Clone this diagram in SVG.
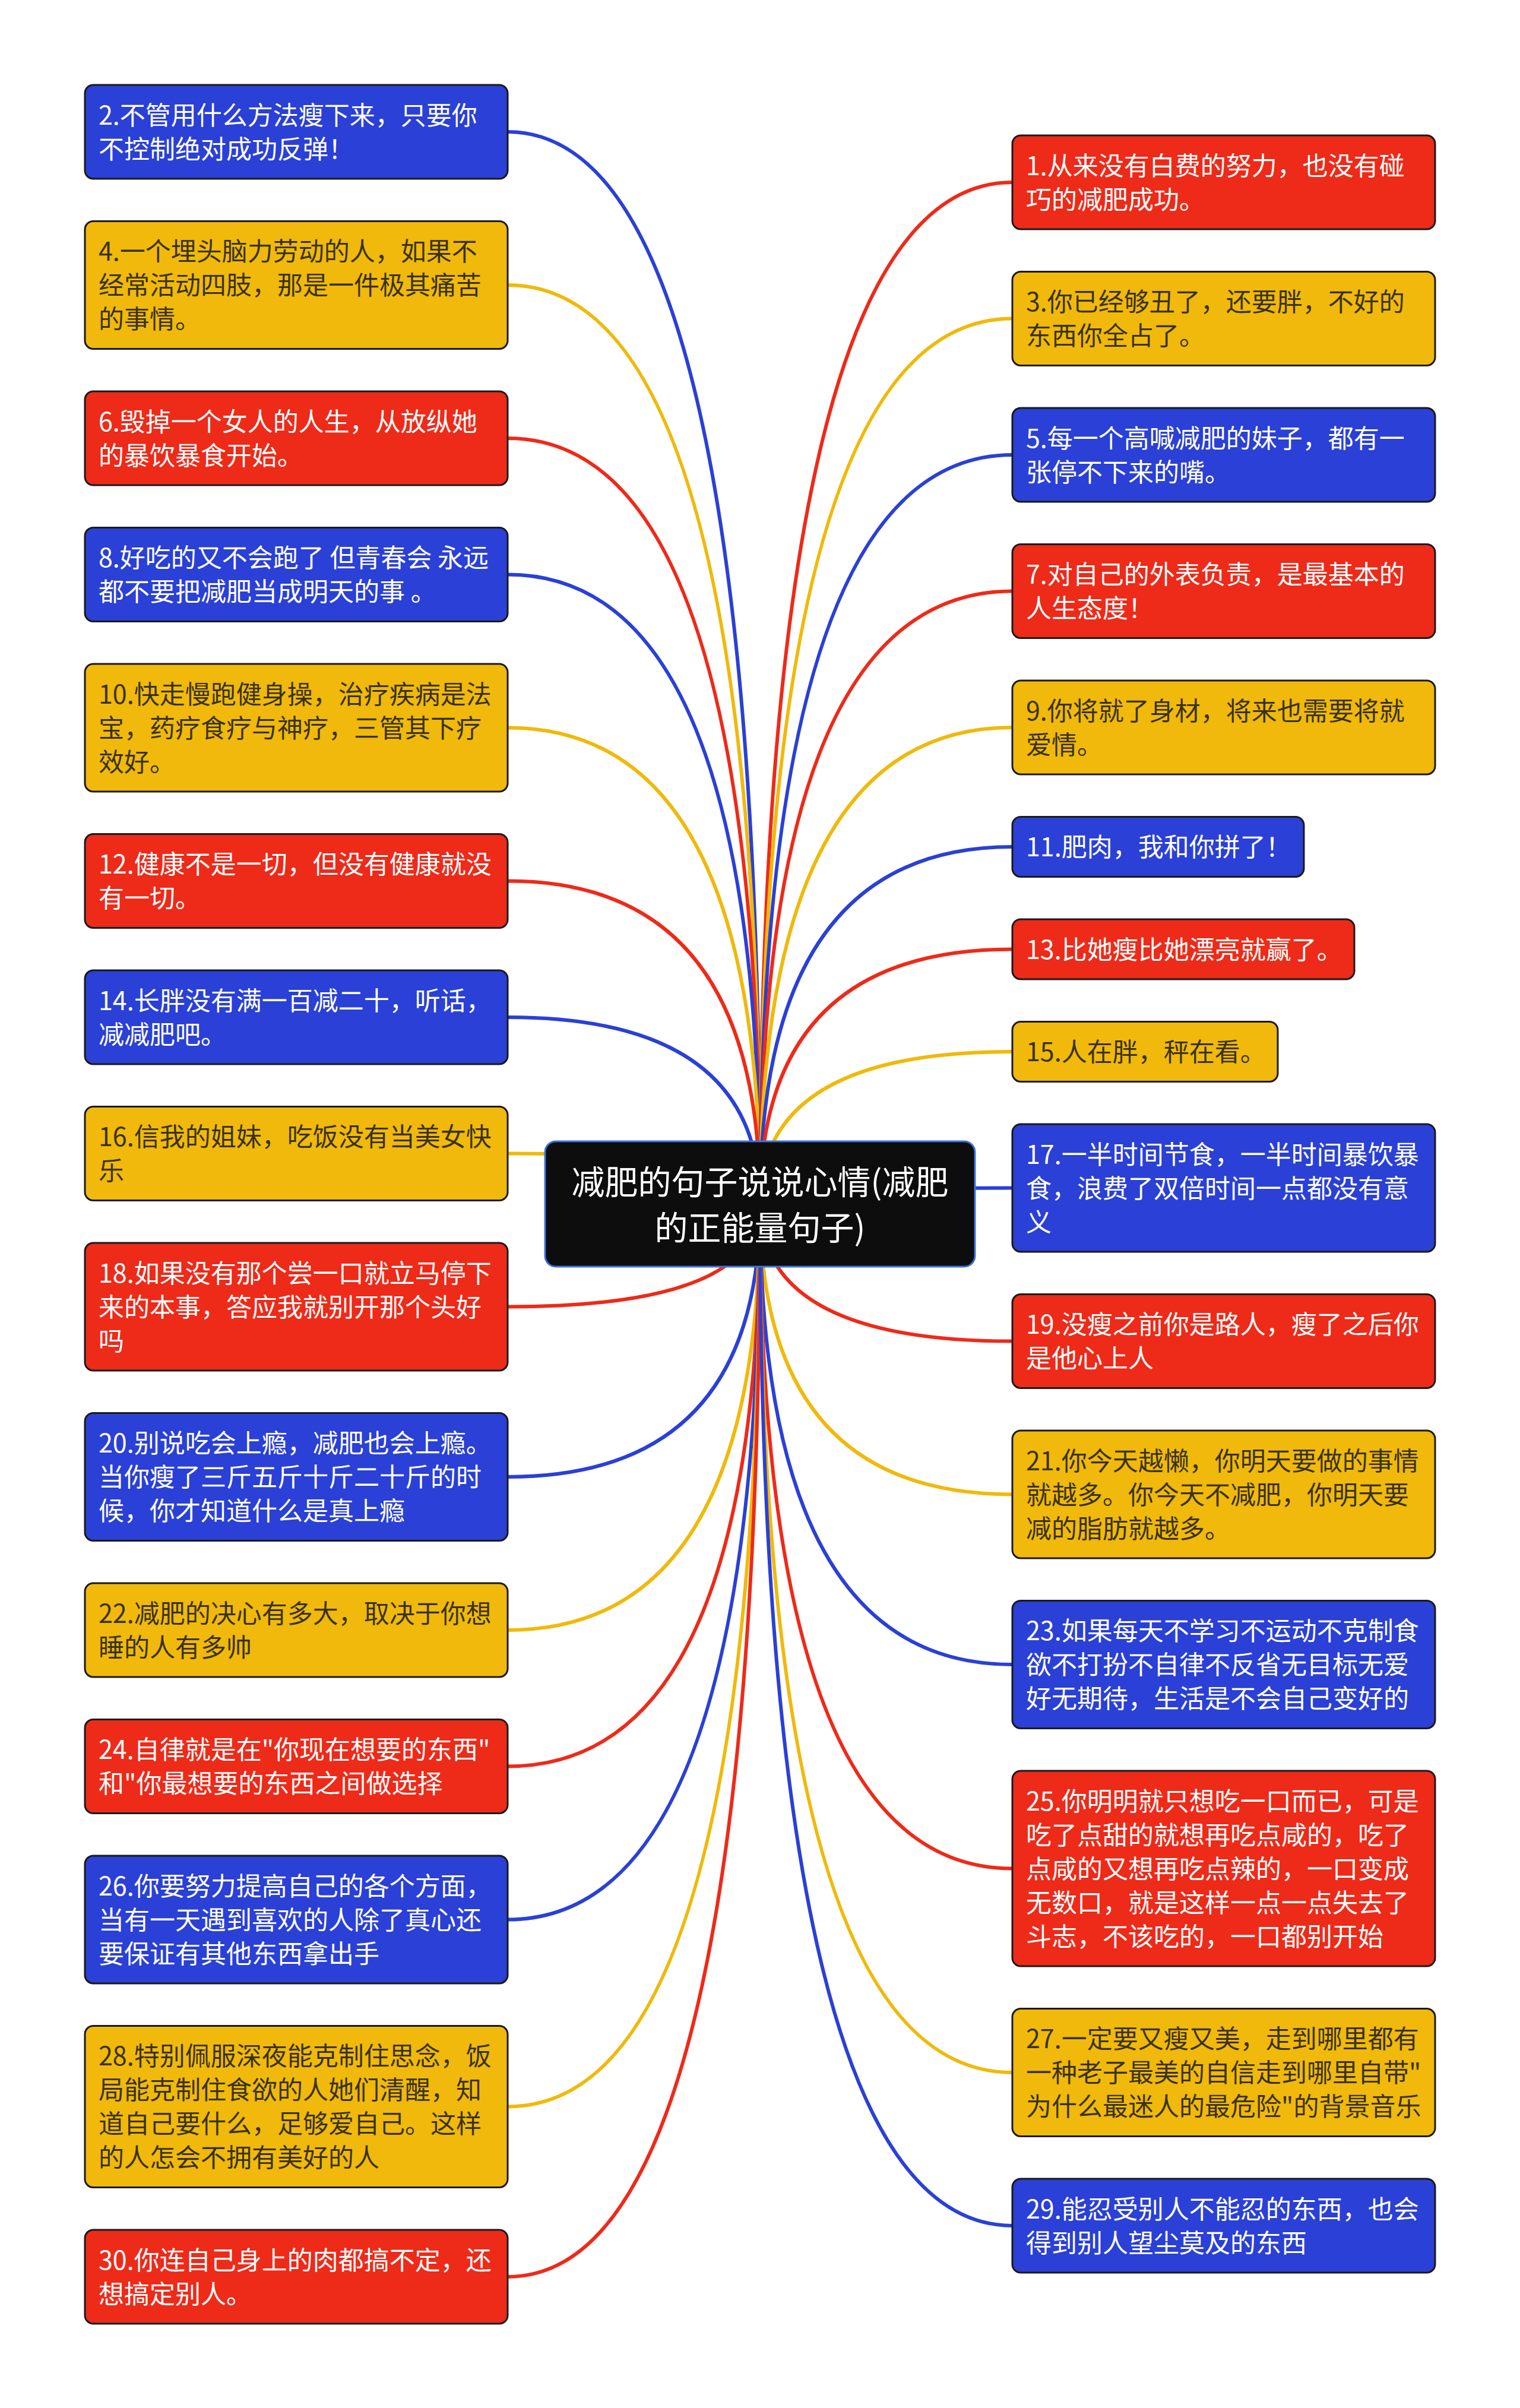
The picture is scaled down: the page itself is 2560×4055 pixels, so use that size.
<svg xmlns="http://www.w3.org/2000/svg" width="2560" height="4055" viewBox="0 0 2560 4055">
<style>
.bg{fill:#ffffff}
.box{stroke:#1a1a1a;stroke-width:3}
.blue .box{fill:#2a40d6}
.red .box{fill:#ee2a19}
.yellow .box{fill:#f0b90b}
.t{font-family:"Noto Sans CJK SC","Noto Sans",sans-serif;font-size:43px}
.blue .t,.red .t{fill:#ffffff}
.yellow .t{fill:#3a3210}
.c{fill:none;stroke-width:6;stroke-linecap:round}
.cb{stroke:#2a40d6}
.cr{stroke:#ee2a19}
.cy{stroke:#f0b90b}
.root rect{fill:#0d0d0d;stroke:#3b74d9;stroke-width:3}
.root text{font-family:"Noto Sans CJK SC","Noto Sans",sans-serif;font-size:56px;fill:#ffffff;text-anchor:middle}
</style>
<rect class="bg" x="0" y="0" width="2560" height="4055"/>
<g id="connectors">
<path class="c cb" d="M855 222 Q1280 222 1280 2027.5"/>
<path class="c cy" d="M855 480 Q1280 480 1280 2027.5"/>
<path class="c cr" d="M855 738 Q1280 738 1280 2027.5"/>
<path class="c cb" d="M855 967.5 Q1280 967.5 1280 2027.5"/>
<path class="c cy" d="M855 1225.5 Q1280 1225.5 1280 2027.5"/>
<path class="c cr" d="M855 1483.5 Q1280 1483.5 1280 2027.5"/>
<path class="c cb" d="M855 1713 Q1280 1713 1280 2027.5"/>
<path class="c cy" d="M855 1942.5 Q1280 1942.5 1280 2027.5"/>
<path class="c cr" d="M855 2200.5 Q1280 2200.5 1280 2027.5"/>
<path class="c cb" d="M855 2487 Q1280 2487 1280 2027.5"/>
<path class="c cy" d="M855 2745 Q1280 2745 1280 2027.5"/>
<path class="c cr" d="M855 2974.5 Q1280 2974.5 1280 2027.5"/>
<path class="c cb" d="M855 3232.5 Q1280 3232.5 1280 2027.5"/>
<path class="c cy" d="M855 3547.5 Q1280 3547.5 1280 2027.5"/>
<path class="c cr" d="M855 3834 Q1280 3834 1280 2027.5"/>
<path class="c cr" d="M1705 307 Q1280 307 1280 2027.5"/>
<path class="c cy" d="M1705 536.5 Q1280 536.5 1280 2027.5"/>
<path class="c cb" d="M1705 766 Q1280 766 1280 2027.5"/>
<path class="c cr" d="M1705 995.5 Q1280 995.5 1280 2027.5"/>
<path class="c cy" d="M1705 1225 Q1280 1225 1280 2027.5"/>
<path class="c cb" d="M1705 1426 Q1280 1426 1280 2027.5"/>
<path class="c cr" d="M1705 1598.5 Q1280 1598.5 1280 2027.5"/>
<path class="c cy" d="M1705 1771 Q1280 1771 1280 2027.5"/>
<path class="c cb" d="M1705 2000.5 Q1280 2000.5 1280 2027.5"/>
<path class="c cr" d="M1705 2258.5 Q1280 2258.5 1280 2027.5"/>
<path class="c cy" d="M1705 2516.5 Q1280 2516.5 1280 2027.5"/>
<path class="c cb" d="M1705 2803 Q1280 2803 1280 2027.5"/>
<path class="c cr" d="M1705 3146.5 Q1280 3146.5 1280 2027.5"/>
<path class="c cy" d="M1705 3490 Q1280 3490 1280 2027.5"/>
<path class="c cb" d="M1705 3748 Q1280 3748 1280 2027.5"/>
</g>
<g id="root" class="root">
<rect x="918" y="1922" width="724" height="211" rx="18"/>
<text><tspan x="1280" y="2011">减肥的句子说说心情(减肥</tspan><tspan x="1280" y="2088">的正能量句子)</tspan></text>
</g>
<g id="n2" class="blue"><rect class="box" x="143" y="143" width="712" height="158" rx="14"/><text class="t"><tspan x="166" y="209.5">2.不管用什么方法瘦下来，只要你</tspan><tspan x="166" dy="57">不控制绝对成功反弹！</tspan></text></g>
<g id="n4" class="yellow"><rect class="box" x="143" y="372.5" width="712" height="215" rx="14"/><text class="t"><tspan x="166" y="439">4.一个埋头脑力劳动的人，如果不</tspan><tspan x="166" dy="57">经常活动四肢，那是一件极其痛苦</tspan><tspan x="166" dy="57">的事情。</tspan></text></g>
<g id="n6" class="red"><rect class="box" x="143" y="659" width="712" height="158" rx="14"/><text class="t"><tspan x="166" y="725.5">6.毁掉一个女人的人生，从放纵她</tspan><tspan x="166" dy="57">的暴饮暴食开始。</tspan></text></g>
<g id="n8" class="blue"><rect class="box" x="143" y="888.5" width="712" height="158" rx="14"/><text class="t"><tspan x="166" y="955">8.好吃的又不会跑了 但青春会 永远</tspan><tspan x="166" dy="57">都不要把减肥当成明天的事 。</tspan></text></g>
<g id="n10" class="yellow"><rect class="box" x="143" y="1118" width="712" height="215" rx="14"/><text class="t"><tspan x="166" y="1184.5">10.快走慢跑健身操，治疗疾病是法</tspan><tspan x="166" dy="57">宝，药疗食疗与神疗，三管其下疗</tspan><tspan x="166" dy="57">效好。</tspan></text></g>
<g id="n12" class="red"><rect class="box" x="143" y="1404.5" width="712" height="158" rx="14"/><text class="t"><tspan x="166" y="1471">12.健康不是一切，但没有健康就没</tspan><tspan x="166" dy="57">有一切。</tspan></text></g>
<g id="n14" class="blue"><rect class="box" x="143" y="1634" width="712" height="158" rx="14"/><text class="t"><tspan x="166" y="1700.5">14.长胖没有满一百减二十，听话，</tspan><tspan x="166" dy="57">减减肥吧。</tspan></text></g>
<g id="n16" class="yellow"><rect class="box" x="143" y="1863.5" width="712" height="158" rx="14"/><text class="t"><tspan x="166" y="1930">16.信我的姐妹，吃饭没有当美女快</tspan><tspan x="166" dy="57">乐</tspan></text></g>
<g id="n18" class="red"><rect class="box" x="143" y="2093" width="712" height="215" rx="14"/><text class="t"><tspan x="166" y="2159.5">18.如果没有那个尝一口就立马停下</tspan><tspan x="166" dy="57">来的本事，答应我就别开那个头好</tspan><tspan x="166" dy="57">吗</tspan></text></g>
<g id="n20" class="blue"><rect class="box" x="143" y="2379.5" width="712" height="215" rx="14"/><text class="t"><tspan x="166" y="2446">20.别说吃会上瘾，减肥也会上瘾。</tspan><tspan x="166" dy="57">当你瘦了三斤五斤十斤二十斤的时</tspan><tspan x="166" dy="57">候，你才知道什么是真上瘾</tspan></text></g>
<g id="n22" class="yellow"><rect class="box" x="143" y="2666" width="712" height="158" rx="14"/><text class="t"><tspan x="166" y="2732.5">22.减肥的决心有多大，取决于你想</tspan><tspan x="166" dy="57">睡的人有多帅</tspan></text></g>
<g id="n24" class="red"><rect class="box" x="143" y="2895.5" width="712" height="158" rx="14"/><text class="t"><tspan x="166" y="2962">24.自律就是在"你现在想要的东西"</tspan><tspan x="166" dy="57">和"你最想要的东西之间做选择</tspan></text></g>
<g id="n26" class="blue"><rect class="box" x="143" y="3125" width="712" height="215" rx="14"/><text class="t"><tspan x="166" y="3191.5">26.你要努力提高自己的各个方面，</tspan><tspan x="166" dy="57">当有一天遇到喜欢的人除了真心还</tspan><tspan x="166" dy="57">要保证有其他东西拿出手</tspan></text></g>
<g id="n28" class="yellow"><rect class="box" x="143" y="3411.5" width="712" height="272" rx="14"/><text class="t"><tspan x="166" y="3478">28.特别佩服深夜能克制住思念，饭</tspan><tspan x="166" dy="57">局能克制住食欲的人她们清醒，知</tspan><tspan x="166" dy="57">道自己要什么，足够爱自己。这样</tspan><tspan x="166" dy="57">的人怎会不拥有美好的人</tspan></text></g>
<g id="n30" class="red"><rect class="box" x="143" y="3755" width="712" height="158" rx="14"/><text class="t"><tspan x="166" y="3821.5">30.你连自己身上的肉都搞不定，还</tspan><tspan x="166" dy="57">想搞定别人。</tspan></text></g>
<g id="n1" class="red"><rect class="box" x="1705" y="228" width="712" height="158" rx="14"/><text class="t"><tspan x="1728" y="294.5">1.从来没有白费的努力，也没有碰</tspan><tspan x="1728" dy="57">巧的减肥成功。</tspan></text></g>
<g id="n3" class="yellow"><rect class="box" x="1705" y="457.5" width="712" height="158" rx="14"/><text class="t"><tspan x="1728" y="524">3.你已经够丑了，还要胖，不好的</tspan><tspan x="1728" dy="57">东西你全占了。</tspan></text></g>
<g id="n5" class="blue"><rect class="box" x="1705" y="687" width="712" height="158" rx="14"/><text class="t"><tspan x="1728" y="753.5">5.每一个高喊减肥的妹子，都有一</tspan><tspan x="1728" dy="57">张停不下来的嘴。</tspan></text></g>
<g id="n7" class="red"><rect class="box" x="1705" y="916.5" width="712" height="158" rx="14"/><text class="t"><tspan x="1728" y="983">7.对自己的外表负责，是最基本的</tspan><tspan x="1728" dy="57">人生态度！</tspan></text></g>
<g id="n9" class="yellow"><rect class="box" x="1705" y="1146" width="712" height="158" rx="14"/><text class="t"><tspan x="1728" y="1212.5">9.你将就了身材，将来也需要将就</tspan><tspan x="1728" dy="57">爱情。</tspan></text></g>
<g id="n11" class="blue"><rect class="box" x="1705" y="1375.5" width="491" height="101" rx="14"/><text class="t"><tspan x="1728" y="1442">11.肥肉，我和你拼了！</tspan></text></g>
<g id="n13" class="red"><rect class="box" x="1705" y="1548" width="576" height="101" rx="14"/><text class="t"><tspan x="1728" y="1614.5">13.比她瘦比她漂亮就赢了。</tspan></text></g>
<g id="n15" class="yellow"><rect class="box" x="1705" y="1720.5" width="447" height="101" rx="14"/><text class="t"><tspan x="1728" y="1787">15.人在胖，秤在看。</tspan></text></g>
<g id="n17" class="blue"><rect class="box" x="1705" y="1893" width="712" height="215" rx="14"/><text class="t"><tspan x="1728" y="1959.5">17.一半时间节食，一半时间暴饮暴</tspan><tspan x="1728" dy="57">食，浪费了双倍时间一点都没有意</tspan><tspan x="1728" dy="57">义</tspan></text></g>
<g id="n19" class="red"><rect class="box" x="1705" y="2179.5" width="712" height="158" rx="14"/><text class="t"><tspan x="1728" y="2246">19.没瘦之前你是路人，瘦了之后你</tspan><tspan x="1728" dy="57">是他心上人</tspan></text></g>
<g id="n21" class="yellow"><rect class="box" x="1705" y="2409" width="712" height="215" rx="14"/><text class="t"><tspan x="1728" y="2475.5">21.你今天越懒，你明天要做的事情</tspan><tspan x="1728" dy="57">就越多。你今天不减肥，你明天要</tspan><tspan x="1728" dy="57">减的脂肪就越多。</tspan></text></g>
<g id="n23" class="blue"><rect class="box" x="1705" y="2695.5" width="712" height="215" rx="14"/><text class="t"><tspan x="1728" y="2762">23.如果每天不学习不运动不克制食</tspan><tspan x="1728" dy="57">欲不打扮不自律不反省无目标无爱</tspan><tspan x="1728" dy="57">好无期待，生活是不会自己变好的</tspan></text></g>
<g id="n25" class="red"><rect class="box" x="1705" y="2982" width="712" height="329" rx="14"/><text class="t"><tspan x="1728" y="3048.5">25.你明明就只想吃一口而已，可是</tspan><tspan x="1728" dy="57">吃了点甜的就想再吃点咸的，吃了</tspan><tspan x="1728" dy="57">点咸的又想再吃点辣的，一口变成</tspan><tspan x="1728" dy="57">无数口，就是这样一点一点失去了</tspan><tspan x="1728" dy="57">斗志，不该吃的，一口都别开始</tspan></text></g>
<g id="n27" class="yellow"><rect class="box" x="1705" y="3382.5" width="712" height="215" rx="14"/><text class="t"><tspan x="1728" y="3449">27.一定要又瘦又美，走到哪里都有</tspan><tspan x="1728" dy="57">一种老子最美的自信走到哪里自带"</tspan><tspan x="1728" dy="57">为什么最迷人的最危险"的背景音乐</tspan></text></g>
<g id="n29" class="blue"><rect class="box" x="1705" y="3669" width="712" height="158" rx="14"/><text class="t"><tspan x="1728" y="3735.5">29.能忍受别人不能忍的东西，也会</tspan><tspan x="1728" dy="57">得到别人望尘莫及的东西</tspan></text></g>
</svg>
